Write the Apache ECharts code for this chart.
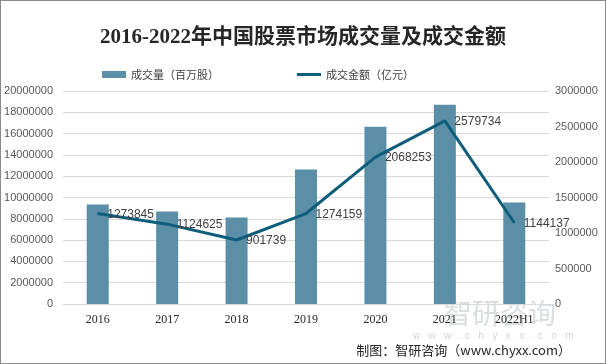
<!DOCTYPE html>
<html><head><meta charset="utf-8">
<script src="https://cdn.jsdelivr.net/npm/echarts@6/dist/echarts.min.js"></script>
<style>html,body{margin:0;padding:0;background:#fff}#c{width:606px;height:364px;box-sizing:border-box;border:1px solid #8c8c8c}</style>
</head><body><div id="c"></div>
<script>
const categories = ['2016','2017','2018','2019','2020','2021','2022H1'];
const volume = [9350000, 8690000, 8130000, 12620000, 16640000, 18700000, 9530000];
const amount = [1273845, 1124625, 901739, 1274159, 2068253, 2579734, 1144137];
const leftTicks = [0, 20000000, 2000000];
const rightTicks = [0, 3000000, 500000];

const chart = echarts.init(document.getElementById('c'));
chart.setOption({
  animation: false,
  title: {
    text: '2016-2022年中国股票市场成交量及成交金额',
    left: 'center', top: 21,
    textStyle: {fontFamily: '"Liberation Serif","Noto Sans CJK SC"', fontSize: 21, fontWeight: 'bold', color: '#262626'}
  },
  legend: {
    top: 63, left: 96, itemGap: 78,
    itemWidth: 24, itemHeight: 7,
    textStyle: {fontFamily: '"Noto Sans CJK SC"', fontSize: 11, color: '#404040'},
    data: [
      {name: '成交量（百万股）', icon: 'rect'},
      {name: '成交金额（亿元）', icon: 'path://M0,0L24,0L24,3L0,3Z', itemStyle: {color: '#0e5e7b'}}
    ]
  },
  graphic: [
    {type: 'text', left: 443, top: 298, style: {text: '智研咨询', fontSize: 28, fontFamily: '"Noto Sans CJK SC"', fill: 'rgba(150,160,170,0.35)'}},
    {type: 'text', left: 412, top: 330, style: {text: 'w   w   w  .  c   h   y   x   x  .  c   o   m', fontSize: 10, fontFamily: 'Arial', fill: 'rgba(150,160,170,0.45)'}},
    {type: 'text', right: 34, top: 343, style: {text: '制图：智研咨询（www.chyxx.com）', fontSize: 13, fontFamily: '"Noto Sans CJK SC"', fill: '#262626'}}
  ],
  grid: {left: 62, right: 56, top: 90, bottom: 59},
  xAxis: {
    type: 'category', data: categories,
    axisLine: {lineStyle: {color: '#d9d9d9'}}, axisTick: {show: false},
    axisLabel: {color: '#262626', fontSize: 12, fontFamily: '"Liberation Serif","DejaVu Serif"', margin: 10}
  },
  yAxis: [
    {type: 'value', min: leftTicks[0], max: leftTicks[1], interval: leftTicks[2],
     axisLabel: {color: '#595959', fontSize: 11, fontFamily: '"Liberation Sans"', margin: 10, formatter: v => String(v)},
     splitLine: {lineStyle: {color: '#d9d9d9'}}, axisLine: {show: false}, axisTick: {show: false}},
    {type: 'value', min: rightTicks[0], max: rightTicks[1], interval: rightTicks[2],
     axisLabel: {color: '#595959', fontSize: 11, fontFamily: '"Liberation Sans"', margin: 6, formatter: v => String(v)},
     splitLine: {show: false}, axisLine: {show: false}, axisTick: {show: false}}
  ],
  series: [
    {name: '成交量（百万股）', type: 'bar', data: volume, barWidth: 22,
     itemStyle: {color: '#5b8fa8'}},
    {name: '成交金额（亿元）', type: 'line', yAxisIndex: 1, data: amount,
     symbol: 'circle', symbolSize: 1, showSymbol: true,
     lineStyle: {color: '#0e5e7b', width: 3}, itemStyle: {color: '#0e5e7b'},
     label: {show: true, position: 'right', distance: 9, color: '#404040', fontSize: 12, fontFamily: '"Liberation Sans"', offset: [0, 1]}}
  ]
});
</script></body></html>
